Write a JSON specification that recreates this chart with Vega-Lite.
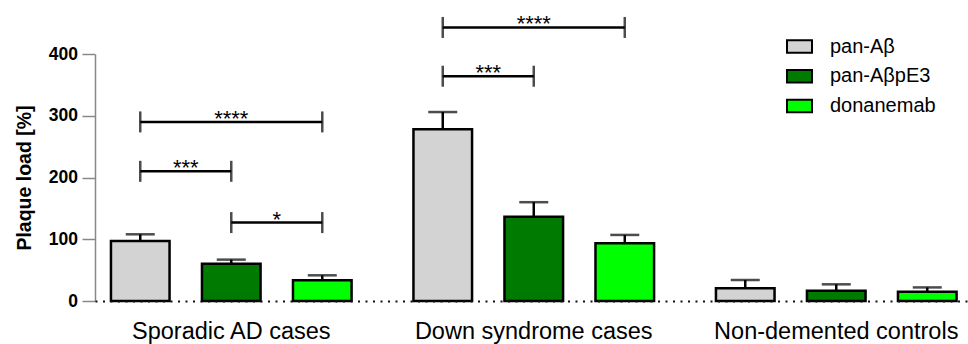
{
  "$schema": "https://vega.github.io/schema/vega-lite/v6.json",
  "width": 873,
  "height": 247,
  "autosize": {"type": "none"},
  "padding": {"left": 95, "top": 54, "right": 0, "bottom": 43},
  "config": {
    "font": "Liberation Sans",
    "view": {"stroke": null},
    "axis": {"grid": false},
    "legend": {
      "orient": "none",
      "legendX": 691,
      "legendY": -21,
      "padding": 0,
      "symbolType": "M-1,-0.5H1V0.5H-1Z",
      "symbolSize": 625,
      "symbolStrokeColor": "black",
      "symbolStrokeWidth": 2,
      "labelFontSize": 20,
      "labelColor": "black",
      "labelOffset": 17,
      "rowPadding": 5.7,
      "title": null
    }
  },
  "datasets": {
    "bars": [
      {"group": "Sporadic AD cases", "slot": "pan-Aβ", "mean": 97, "upper": 108},
      {"group": "Sporadic AD cases", "slot": "pan-AβpE3", "mean": 60.4, "upper": 67},
      {"group": "Sporadic AD cases", "slot": "donanemab", "mean": 33.5, "upper": 41.6},
      {"group": "Down syndrome cases", "slot": "pan-Aβ", "mean": 278, "upper": 306},
      {"group": "Down syndrome cases", "slot": "pan-AβpE3", "mean": 136.4, "upper": 160},
      {"group": "Down syndrome cases", "slot": "donanemab", "mean": 93.4, "upper": 107},
      {"group": "Non-demented controls", "slot": "pan-Aβ", "mean": 20.5, "upper": 34},
      {"group": "Non-demented controls", "slot": "pan-AβpE3", "mean": 16.7, "upper": 27},
      {"group": "Non-demented controls", "slot": "donanemab", "mean": 15, "upper": 22}
    ],
    "brackets": [
      {"group": "Sporadic AD cases", "id": "sad1", "slot": "pan-Aβ", "level": 210},
      {"group": "Sporadic AD cases", "id": "sad1", "slot": "pan-AβpE3", "level": 210},
      {"group": "Sporadic AD cases", "id": "sad2", "slot": "pan-Aβ", "level": 290},
      {"group": "Sporadic AD cases", "id": "sad2", "slot": "donanemab", "level": 290},
      {"group": "Sporadic AD cases", "id": "sad3", "slot": "pan-AβpE3", "level": 127},
      {"group": "Sporadic AD cases", "id": "sad3", "slot": "donanemab", "level": 127},
      {"group": "Down syndrome cases", "id": "ds1", "slot": "pan-Aβ", "level": 364},
      {"group": "Down syndrome cases", "id": "ds1", "slot": "pan-AβpE3", "level": 364},
      {"group": "Down syndrome cases", "id": "ds2", "slot": "pan-Aβ", "level": 443},
      {"group": "Down syndrome cases", "id": "ds2", "slot": "donanemab", "level": 443}
    ],
    "stars": [
      {"group": "Sporadic AD cases", "slot": "pan-Aβ vs pan-AβpE3", "level": 210, "label": "***"},
      {"group": "Sporadic AD cases", "slot": "pan-AβpE3", "level": 290, "label": "****"},
      {"group": "Sporadic AD cases", "slot": "pan-AβpE3 vs donanemab", "level": 127, "label": "*"},
      {"group": "Down syndrome cases", "slot": "pan-Aβ vs pan-AβpE3", "level": 364, "label": "***"},
      {"group": "Down syndrome cases", "slot": "pan-AβpE3", "level": 443, "label": "****"}
    ]
  },
  "encoding": {
    "x": {
      "field": "group",
      "type": "nominal",
      "sort": ["Sporadic AD cases", "Down syndrome cases", "Non-demented controls"],
      "scale": {"paddingInner": 0.2, "paddingOuter": 0.043, "align": 0.587},
      "axis": {
        "title": null,
        "labelAngle": 0,
        "labelFontSize": 23.5,
        "labelColor": "black",
        "labelPadding": 18,
        "labelLimit": 0,
        "ticks": false,
        "tickSize": 0,
        "domainColor": "#111",
        "domainWidth": 2,
        "domainDash": [2, 5.5],
        "zindex": 1
      }
    },
    "xOffset": {
      "field": "slot",
      "type": "nominal",
      "scale": {
        "domain": ["pan-Aβ", "pan-Aβ vs pan-AβpE3", "pan-AβpE3", "pan-AβpE3 vs donanemab", "donanemab"],
        "paddingInner": 0,
        "paddingOuter": 0.159
      }
    }
  },
  "layer": [
    {
      "data": {"name": "bars"},
      "mark": {"type": "bar", "stroke": "black", "strokeWidth": 2.5, "width": 58.6},
      "encoding": {
        "y": {
          "field": "mean",
          "type": "quantitative",
          "scale": {"domain": [0, 400], "nice": false},
          "axis": {
            "values": [0, 100, 200, 300, 400],
            "title": "Plaque load [%]",
            "titleFontSize": 19.5,
            "titleFontWeight": "bold",
            "titleColor": "black",
            "titlePadding": 14,
            "labelFontSize": 17.5,
            "labelFontWeight": "bold",
            "labelColor": "black",
            "labelPadding": 4.5,
            "tickSize": 13,
            "tickColor": "#888",
            "tickWidth": 1.5,
            "domainColor": "#888",
            "domainWidth": 1.5
          }
        },
        "color": {
          "field": "slot",
          "type": "nominal",
          "scale": {"domain": ["pan-Aβ", "pan-AβpE3", "donanemab"], "range": ["#d3d3d3", "#007a00", "#00ff00"]},
          "legend": {"title": null}
        }
      }
    },
    {
      "data": {"name": "bars"},
      "mark": {"type": "rule", "color": "black", "strokeWidth": 2.5},
      "encoding": {
        "y": {"field": "mean", "type": "quantitative"},
        "y2": {"field": "upper"}
      }
    },
    {
      "data": {"name": "bars"},
      "mark": {"type": "tick", "color": "black", "size": 29, "thickness": 2.5},
      "encoding": {
        "y": {"field": "upper", "type": "quantitative"}
      }
    },
    {
      "data": {"name": "brackets"},
      "mark": {"type": "line", "color": "black", "strokeWidth": 2.5},
      "encoding": {
        "y": {"field": "level", "type": "quantitative"},
        "detail": {"field": "id", "type": "nominal"}
      }
    },
    {
      "data": {"name": "brackets"},
      "mark": {"type": "tick", "orient": "vertical", "color": "black", "size": 21, "thickness": 2.5},
      "encoding": {
        "y": {"field": "level", "type": "quantitative"}
      }
    },
    {
      "data": {"name": "stars"},
      "mark": {"type": "text", "fontSize": 22, "color": "black", "baseline": "alphabetic", "dy": 4},
      "encoding": {
        "y": {"field": "level", "type": "quantitative"},
        "text": {"field": "label"}
      }
    }
  ]
}
